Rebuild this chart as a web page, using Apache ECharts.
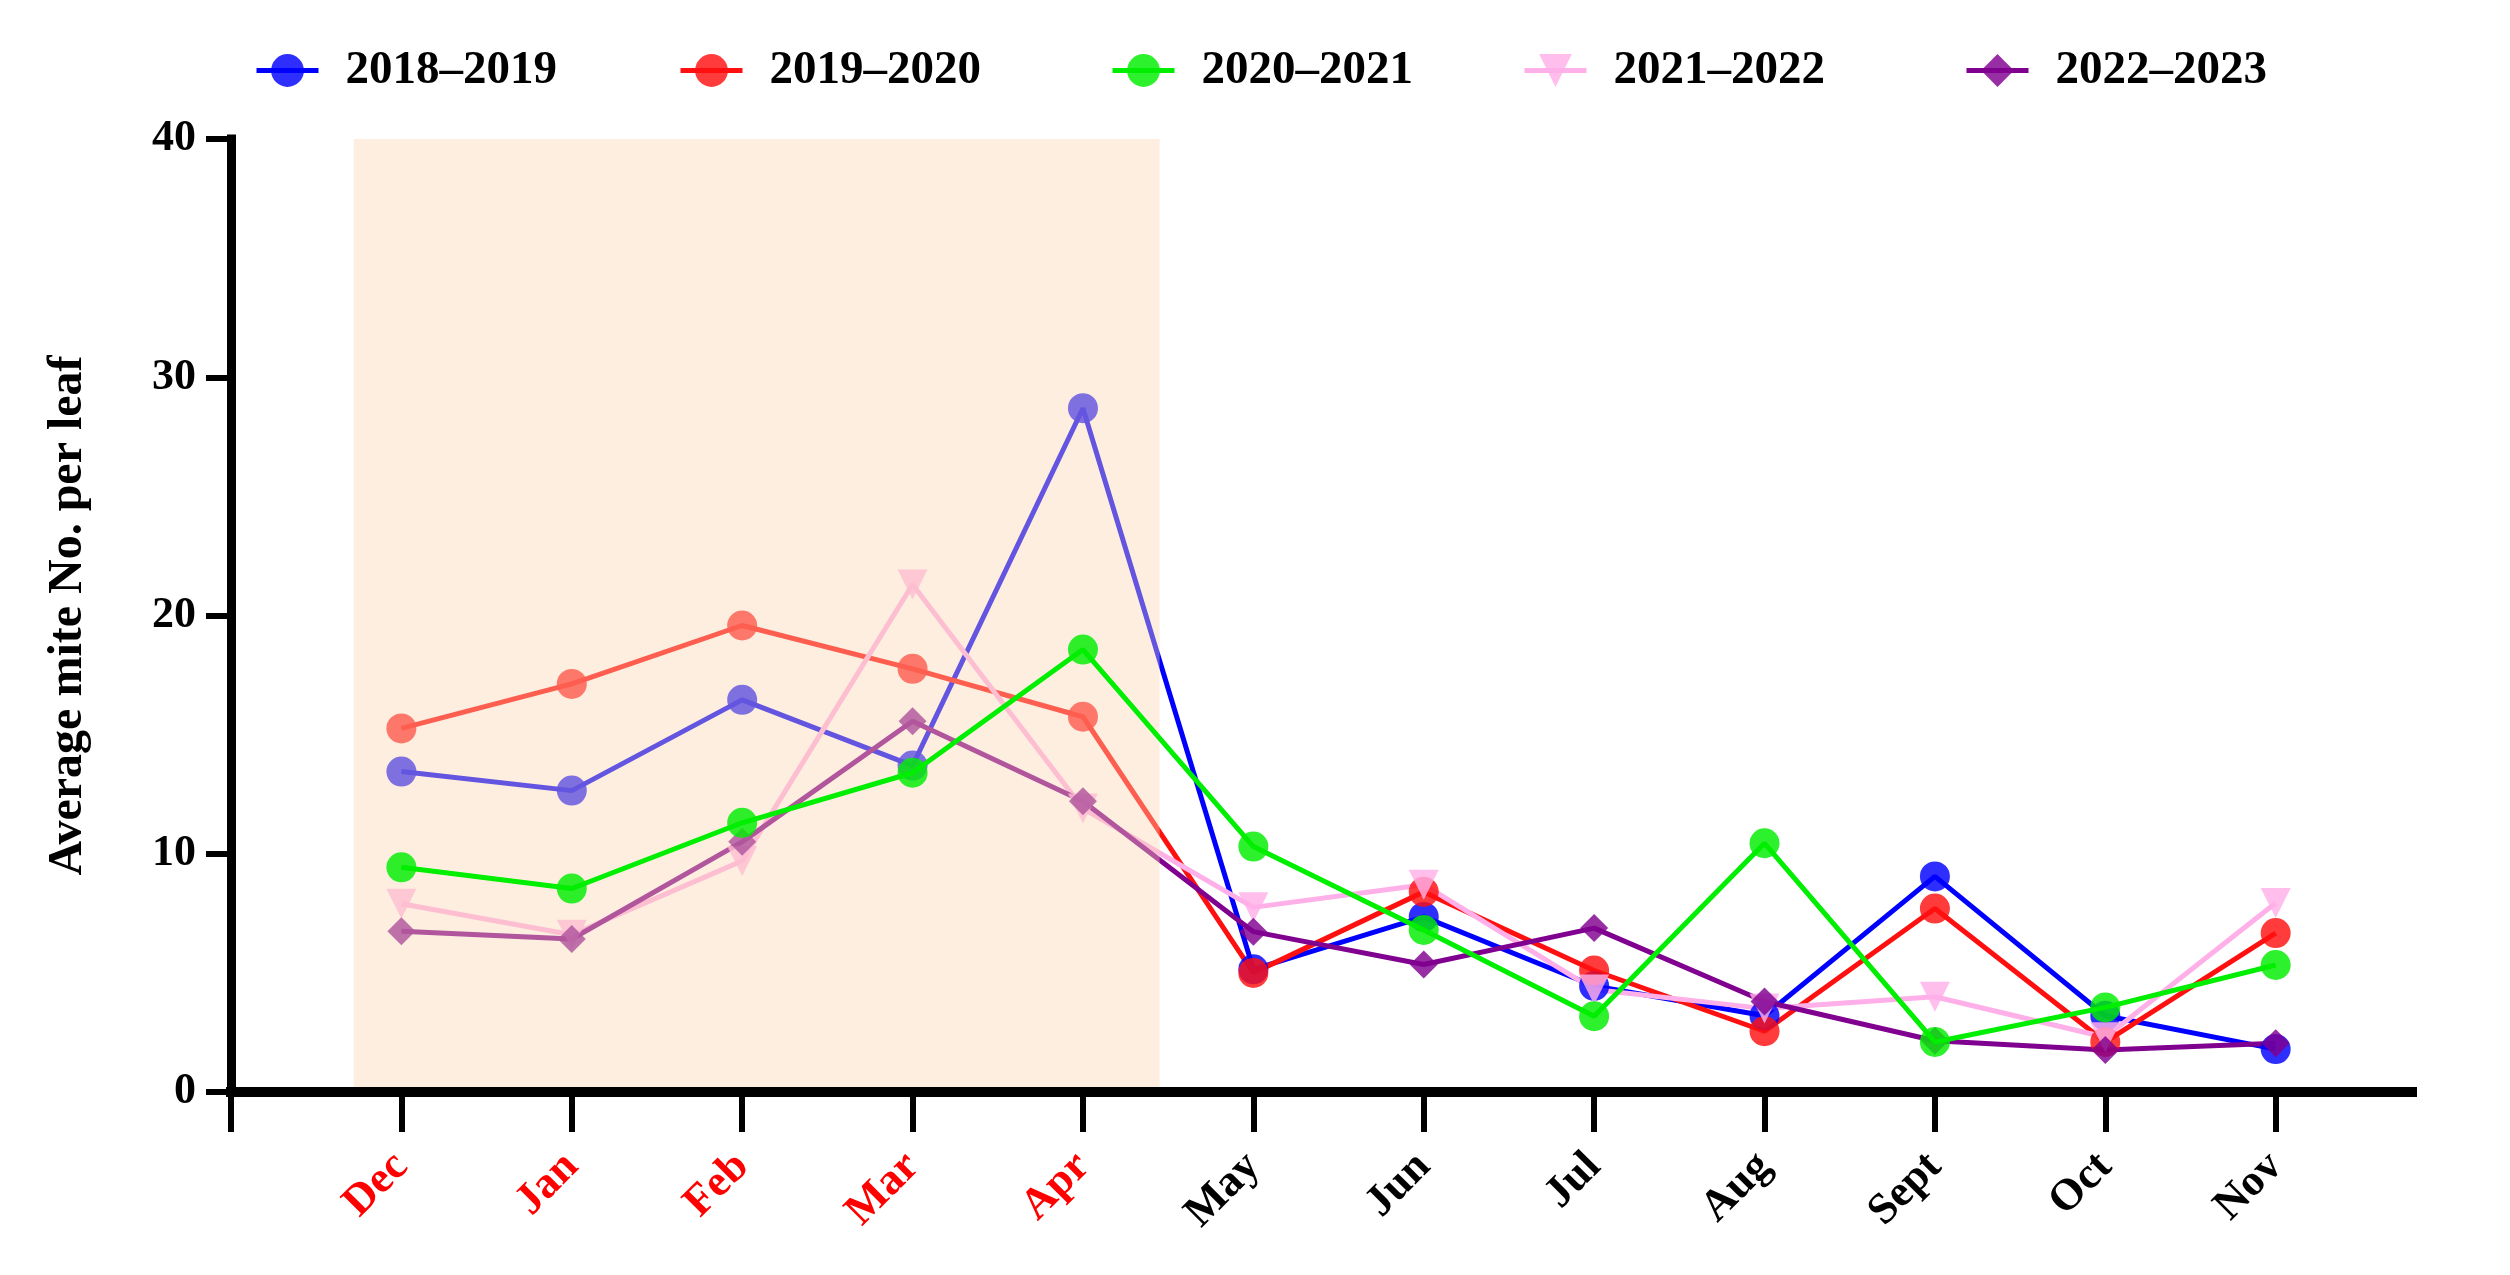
<!DOCTYPE html>
<html>
<head>
<meta charset="utf-8">
<script src="https://cdn.jsdelivr.net/npm/echarts@6/dist/echarts.min.js"></script>
<style>
html,body{margin:0;padding:0;background:#fff;}
#c{width:2510px;height:1275px;}
</style>
</head>
<body>
<div id="c"></div>
<script>
const months = ['Dec','Jan','Feb','Mar','Apr','May','Jun','Jul','Aug','Sept','Oct','Nov'];
const redMonthCount = 5; // Dec–Apr labelled in red
const seasons = ['2018–2019','2019–2020','2020–2021','2021–2022','2022–2023'];
const s2018 = [13.45, 12.65, 16.46, 13.7, 28.7, 5.15, 7.35, 4.45, 3.2, 9.05, 3.2, 1.8];
const s2019 = [15.26, 17.13, 19.58, 17.76, 15.75, 5.0, 8.4, 5.1, 2.55, 7.7, 2.1, 6.67];
const s2020 = [9.43, 8.54, 11.3, 13.4, 18.57, 10.3, 6.8, 3.18, 10.44, 2.1, 3.55, 5.33];
const s2021 = [7.9, 6.6, 9.7, 21.3, 11.9, 7.75, 8.7, 4.3, 3.5, 4.0, 2.3, 7.93];
const s2022 = [6.75, 6.42, 10.5, 15.56, 12.2, 6.73, 5.35, 6.88, 3.8, 2.15, 1.76, 2.05];
const yTicks = [0, 10, 20, 30, 40];
const shadeX = [0.72, 5.45];   // shaded winter/spring period, in x-axis units
const shadeY = [0, 40.55];

const FONT = "'Liberation Serif','Times New Roman',serif";
const chart = echarts.init(document.getElementById('c'), null, {renderer: 'canvas'});

const toPts = arr => arr.map((v, i) => [i + 1, v]);
const styles = [
  {color: '#0000ff', symbol: 'circle', size: 30, rot: 0, z: 2},
  {color: '#ff1010', symbol: 'circle', size: 30, rot: 0, z: 2},
  {color: '#00ee00', symbol: 'circle', size: 30, rot: 0, z: 4},
  {color: '#ffb0e8', symbol: 'triangle', size: 30, rot: 180, z: 2},
  {color: '#800090', symbol: 'diamond', size: 28, rot: 0, z: 2}
];
const values = [s2018, s2019, s2020, s2021, s2022];

const series = values.map((arr, k) => ({
  name: seasons[k],
  type: 'line',
  data: toPts(arr),
  symbol: styles[k].symbol,
  symbolSize: styles[k].size,
  symbolRotate: styles[k].rot,
  z: styles[k].z,
  lineStyle: {color: styles[k].color, width: 5},
  itemStyle: {color: styles[k].color, opacity: 0.82},
  emphasis: {disabled: true},
  animation: false
}));

series.push({
  name: 'shade',
  type: 'line',
  data: [],
  clip: false,
  silent: true,
  animation: false,
  markArea: {
    silent: true,
    z: 3,
    itemStyle: {color: 'rgba(250,212,178,0.4)'},
    data: [[{coord: [shadeX[0], shadeY[0]]}, {coord: [shadeX[1], shadeY[1]]}]]
  }
});

const legendLeft = [249, 673, 1105, 1517, 1959];
const legends = seasons.map((s, k) => ({
  data: [s],
  left: legendLeft[k],
  top: 42,
  itemWidth: 62,
  itemHeight: 41,
  selectedMode: false,
  lineStyle: {width: 5},
  textStyle: {fontFamily: FONT, fontSize: 47, fontWeight: 'bold', color: '#000', padding: [0, 0, 0, 22]}
}));

const xTickVals = [0].concat(months.map((m, i) => i + 1));

chart.setOption({
  animation: false,
  backgroundColor: '#fff',
  legend: legends,
  grid: {left: 231, right: 98, top: 139, bottom: 183, containLabel: false},
  xAxis: {
    type: 'value',
    z: 6,
    min: 0,
    max: 12.8,
    interval: 1,
    splitLine: {show: false},
    axisLine: {show: true, lineStyle: {color: '#000', width: 10, cap: 'square'}},
    axisTick: {show: true, length: 40, customValues: xTickVals, lineStyle: {color: '#000', width: 6}},
    axisLabel: {
      customValues: xTickVals.slice(1),
      rotate: 45,
      margin: 68,
      fontFamily: FONT,
      fontSize: 44,
      fontWeight: 'bold',
      formatter: v => months[Math.round(v) - 1] || '',
      color: v => (v >= 1 && v <= redMonthCount) ? '#ff0000' : '#000'
    }
  },
  yAxis: {
    type: 'value',
    z: 6,
    min: yTicks[0],
    max: yTicks[yTicks.length - 1],
    interval: 10,
    name: 'Average mite No. per leaf',
    nameLocation: 'middle',
    nameGap: 138,
    nameTextStyle: {fontFamily: FONT, fontSize: 48, fontWeight: 'bold', color: '#000'},
    splitLine: {show: false},
    axisLine: {show: true, lineStyle: {color: '#000', width: 9, cap: 'square'}},
    axisTick: {show: true, length: 25, lineStyle: {color: '#000', width: 6}},
    axisLabel: {margin: 35, fontFamily: FONT, fontSize: 44, fontWeight: 'bold', color: '#000'}
  },
  series: series
});
</script>
</body>
</html>
